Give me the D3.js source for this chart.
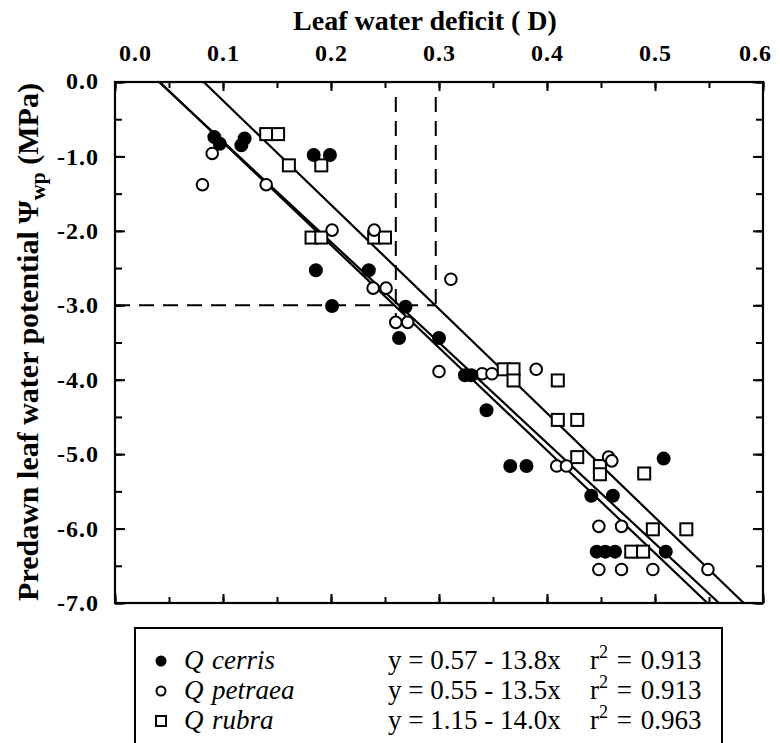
<!DOCTYPE html>
<html><head><meta charset="utf-8">
<script src="https://cdn.jsdelivr.net/npm/d3@7"></script>
<style>body{margin:0;background:#fff}svg{display:block}</style>
</head><body>
<script>
// ---- data ----
const xTicks = [0.0, 0.1, 0.2, 0.3, 0.4, 0.5, 0.6];
const yTicks = [0, -1, -2, -3, -4, -5, -6, -7];
const cerris = [[0.092,-0.74],[0.097,-0.83],[0.120,-0.76],[0.117,-0.85],[0.184,-0.98],[0.199,-0.98],
  [0.186,-2.53],[0.235,-2.53],[0.201,-3.01],[0.269,-3.02],[0.263,-3.44],[0.300,-3.44],
  [0.324,-3.94],[0.330,-3.94],[0.344,-4.41],[0.366,-5.16],[0.381,-5.16],[0.508,-5.06],
  [0.441,-5.56],[0.461,-5.56],[0.446,-6.31],[0.454,-6.31],[0.463,-6.31],[0.510,-6.31]];
const petraea = [[0.090,-0.96],[0.081,-1.38],[0.140,-1.38],[0.201,-1.99],[0.240,-1.99],[0.239,-2.77],
  [0.251,-2.77],[0.311,-2.65],[0.260,-3.23],[0.271,-3.23],[0.300,-3.89],[0.340,-3.92],[0.349,-3.92],
  [0.390,-3.86],[0.409,-5.16],[0.418,-5.16],[0.457,-5.04],[0.460,-5.09],[0.448,-5.97],[0.469,-5.97],
  [0.448,-6.55],[0.469,-6.55],[0.498,-6.55],[0.549,-6.55]];
const rubra = [[0.140,-0.70],[0.151,-0.70],[0.161,-1.12],[0.191,-1.12],[0.182,-2.09],[0.191,-2.09],
  [0.240,-2.09],[0.250,-2.09],[0.360,-3.86],[0.369,-3.86],[0.369,-4.01],[0.410,-4.01],[0.410,-4.54],
  [0.428,-4.54],[0.428,-5.04],[0.449,-5.16],[0.449,-5.27],[0.490,-5.26],[0.498,-6.01],[0.529,-6.01],
  [0.478,-6.31],[0.489,-6.31]];
const regressions = [ // intercept, slope
  {species:"cerris", a:0.57, b:-13.8, eq:"y = 0.57 - 13.8x", r2:"0.913", marker:"filled"},
  {species:"petraea", a:0.55, b:-13.5, eq:"y = 0.55 - 13.5x", r2:"0.913", marker:"open"},
  {species:"rubra", a:1.15, b:-14.0, eq:"y = 1.15 - 14.0x", r2:"0.963", marker:"square"}
];
const refX = [0.26, 0.297];
const refXEnds = [-3.15, -3.0];
const refY = -3.0;

// ---- layout ----
const W = 780, H = 743;
const L = 115, R = 763, T = 82, B = 603;
const svg = d3.select("body").append("svg").attr("width", W).attr("height", H);
const x = d3.scaleLinear().domain([0, 0.6]).range([L, R]);
const y = d3.scaleLinear().domain([0, -7]).range([T, B]);
const serif = "'Liberation Serif','Times New Roman',serif";
const fmt = d => d3.format(".1f")(d).replace("\u2212", "-");

svg.append("clipPath").attr("id","clip").append("rect").attr("x",L).attr("y",T).attr("width",R-L).attr("height",B-T);

const minorX = d3.range(0, 0.6001, 0.05);
const minorY = d3.range(0, -7.001, -0.5);
function tickAxis(axisGen, tr) {
  const g = svg.append("g").attr("transform", tr).call(axisGen);
  g.select(".domain").remove();
  g.selectAll("line").attr("stroke","#000").attr("stroke-width",2);
  return g;
}
tickAxis(d3.axisBottom(x).tickValues(minorX).tickSize(-6).tickFormat(""), `translate(0,${B})`);
tickAxis(d3.axisBottom(x).tickValues(xTicks).tickSize(-9).tickFormat(""), `translate(0,${B})`);
tickAxis(d3.axisTop(x).tickValues(minorX).tickSize(-6).tickFormat(""), `translate(0,${T})`);
const topAx = tickAxis(d3.axisTop(x).tickValues(xTicks).tickSize(-9).tickPadding(21).tickFormat(fmt), `translate(0,${T})`);
tickAxis(d3.axisLeft(y).tickValues(minorY).tickSize(-7).tickFormat(""), `translate(${L},0)`);
const leftAx = tickAxis(d3.axisLeft(y).tickValues(yTicks).tickSize(-10).tickPadding(16).tickFormat(fmt), `translate(${L},0)`);
tickAxis(d3.axisRight(y).tickValues(minorY).tickSize(-7).tickFormat(""), `translate(${R},0)`);
tickAxis(d3.axisRight(y).tickValues(yTicks).tickSize(-10).tickFormat(""), `translate(${R},0)`);

topAx.selectAll("text").attr("font-family", serif).attr("font-weight","bold").attr("font-size",24).attr("fill","#000")
  .attr("letter-spacing", 1)
  .attr("dx", d => d === 0 ? 20 : (d === 0.6 ? -8 : 0));
leftAx.selectAll("text").attr("font-family", serif).attr("font-weight","bold").attr("font-size",24).attr("fill","#000")
  .attr("letter-spacing", 1)
  .attr("dy", d => d === 0 ? "0.25em" : "0.32em");

svg.append("rect").attr("x",L).attr("y",T).attr("width",R-L).attr("height",B-T)
  .attr("fill","none").attr("stroke","#000").attr("stroke-width",2.2);

const dash = svg.append("g").attr("stroke","#000").attr("stroke-width",2).attr("stroke-dasharray","15,9").attr("fill","none");
dash.append("line").attr("x1",x(0)).attr("x2",x(refX[1])).attr("y1",y(refY)).attr("y2",y(refY));
refX.forEach((v,i) => dash.append("line").attr("x1",x(v)).attr("x2",x(v)).attr("y1",y(-0.2)).attr("y2",y(refXEnds[i])));

const lg = svg.append("g").attr("clip-path","url(#clip)");
regressions.forEach(r => {
  const xa = (0 - r.a) / r.b, xb = (-7 - r.a) / r.b;
  lg.append("line").attr("x1",x(xa)).attr("y1",y(0)).attr("x2",x(xb)).attr("y2",y(-7))
    .attr("stroke","#000").attr("stroke-width",2.2);
});

const pts = svg.append("g");
function drawMarker(g, type, cx, cy, s) {
  if (type === "square") {
    g.append("rect").attr("x",cx-s).attr("y",cy-s).attr("width",2*s).attr("height",2*s)
      .attr("fill","#fff").attr("stroke","#000").attr("stroke-width",2);
  } else {
    g.append("circle").attr("cx",cx).attr("cy",cy).attr("r",s)
      .attr("fill", type === "filled" ? "#000" : "#fff").attr("stroke","#000").attr("stroke-width",2);
  }
}
rubra.forEach(d => drawMarker(pts, "square", x(d[0]), y(d[1]), 6));
petraea.forEach(d => drawMarker(pts, "open", x(d[0]), y(d[1]), 5.8));
cerris.forEach(d => drawMarker(pts, "filled", x(d[0]), y(d[1]), 6));

svg.append("text").attr("x", 425).attr("y", 30).attr("text-anchor","middle")
  .attr("font-family", serif).attr("font-weight","bold").attr("font-size",28).text("Leaf water deficit ( D)");
const yl = svg.append("text").attr("transform","translate(38,342) rotate(-90)").attr("text-anchor","middle")
  .attr("font-family", serif).attr("font-weight","bold").attr("font-size",30);
yl.append("tspan").text("Predawn leaf water potential \u03A8");
yl.append("tspan").attr("font-size",22).attr("dy",7).text("wp");
yl.append("tspan").attr("dy",-7).text(" (MPa)");

const lgd = svg.append("g");
lgd.append("rect").attr("x",135).attr("y",628).attr("width",587).attr("height",200)
  .attr("fill","none").attr("stroke","#000").attr("stroke-width",2);
regressions.forEach((r,i) => {
  const cy = 661 + i*30;
  drawMarker(lgd, r.marker, 161, cy, r.marker === "square" ? 5 : 4.5);
  const t = lgd.append("text").attr("y", cy + 8).attr("font-family", serif).attr("font-size",27);
  t.append("tspan").attr("x",184).attr("font-style","italic").text("Q");
  t.append("tspan").attr("x",212).attr("font-style","italic").text(r.species);
  lgd.append("text").attr("x",388).attr("y",cy+8).attr("font-family",serif).attr("font-size",27).text(r.eq);
  const t2 = lgd.append("text").attr("x",590).attr("y",cy+8).attr("font-family",serif).attr("font-size",27)
    .attr("word-spacing", 2);
  t2.append("tspan").text("r");
  t2.append("tspan").attr("font-size",18).attr("dy",-11).text("2");
  t2.append("tspan").attr("dy",11).text(" = " + r.r2);
});
</script>
</body></html>
